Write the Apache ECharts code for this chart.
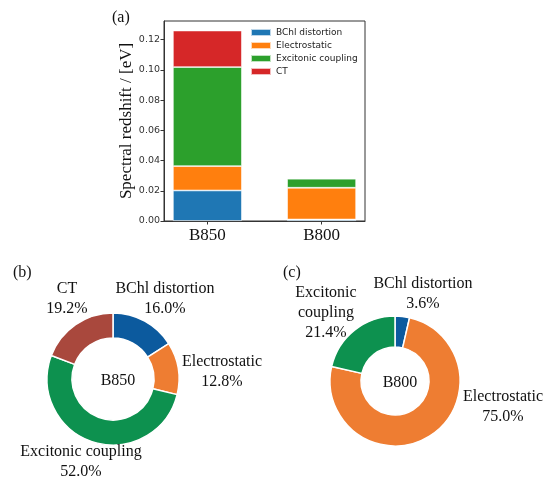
<!DOCTYPE html>
<html>
<head>
<meta charset="utf-8">
<script src="https://cdn.jsdelivr.net/npm/echarts@6/dist/echarts.min.js"></script>
<style>
  html, body { margin: 0; padding: 0; background: #fff; }
  #chart { width: 547px; height: 480px; }
</style>
</head>
<body>
<div id="chart"></div>
<script>
// categories and components
const categories = ["B850", "B800"];
const components = ["BChl distortion", "Electrostatic", "Excitonic coupling", "CT"];

// spectral redshift [eV] per component, index = category
const bchl = [0.0202, 0.001];
const electrostatic = [0.0161, 0.021];
const excitonic = [0.0655, 0.006];
const ct = [0.0242, 0];

const yTicks = [0, 0.02, 0.04, 0.06, 0.08, 0.1, 0.12];

// donut shares [%]
const b850Share = [16.0, 12.8, 52.0, 19.2];
const b800Share = [3.6, 75.0, 21.4];
const b800Labels = ["BChl distortion", "Electrostatic", "Excitonic\ncoupling"];

const barColors = ["#1f77b4", "#ff7f0e", "#2ca02c", "#d62728"];
const pieColors = ["#0c5a9e", "#ee7d32", "#0d914f", "#a9483d"];

const serif = "'Liberation Serif', 'Times New Roman', serif";
const sans = "'DejaVu Sans', sans-serif";

// label centre offsets from the donut centre (px)
const b850LabelOffsets = [[52, -80], [109, -7], [-32, 83], [-46, -80]];
const b800LabelOffsets = [[28, -87], [108, 26], [-69, -68]];

const pieB850 = { cx: 113, cy: 379 };
const pieB800 = { cx: 395, cy: 381 };

let myChart = echarts.init(document.getElementById("chart"));

// value first so the stack runs on the y dimension, bar position second
const barSeries = [bchl, electrostatic, excitonic, ct].map((vals, i) => ({
  name: components[i],
  type: "bar",
  stack: "total",
  barWidth: 69,
  encode: { x: 1, y: 0 },
  itemStyle: {
    color: barColors[i],
    borderColor: "rgba(255,255,255,0.7)",
    borderWidth: 0.8
  },
  data: vals.map((v, k) => [v, k])
}));

function donut(name, shares, labels, center, radius, offsets) {
  return {
    type: "pie",
    name: name,
    center: [center.cx, center.cy],
    radius: radius,
    startAngle: 90,
    clockwise: true,
    avoidLabelOverlap: false,
    itemStyle: { borderColor: "#fff", borderWidth: 1.5 },
    label: {
      show: true,
      position: "outside",
      fontFamily: serif,
      fontSize: 16,
      lineHeight: 20,
      color: "#111",
      formatter: p => labels[p.dataIndex] + "\n" + shares[p.dataIndex].toFixed(1) + "%"
    },
    labelLine: { show: false },
    labelLayout: p => ({
      x: center.cx + offsets[p.dataIndex][0],
      y: center.cy + offsets[p.dataIndex][1],
      align: "center",
      verticalAlign: "middle"
    }),
    data: shares.map((v, i) => ({
      name: labels[i],
      value: v,
      itemStyle: { color: pieColors[i] }
    }))
  };
}

const panelText = { fontFamily: serif, fontSize: 16, fontWeight: "normal", color: "#111" };

myChart.setOption({
  animation: false,
  title: [
    { text: "(a)", left: 107, top: 5, textStyle: panelText },
    { text: "(b)", left: 8, top: 260, textStyle: panelText },
    { text: "(c)", left: 278, top: 260, textStyle: panelText },
    { text: categories[0], left: pieB850.cx, top: pieB850.cy - 11, textAlign: "center", textStyle: panelText },
    { text: categories[1], left: pieB800.cx, top: pieB800.cy - 11, textAlign: "center", textStyle: panelText }
  ],
  legend: {
    data: components,
    orient: "vertical",
    left: 250,
    top: 27,
    padding: 0,
    itemWidth: 20,
    itemHeight: 7,
    itemGap: 2,
    icon: "rect",
    textStyle: { fontFamily: sans, fontSize: 9, lineHeight: 11, color: "#222" }
  },
  grid: {
    left: 164,
    top: 21,
    width: 201,
    height: 200,
    show: true,
    borderColor: "#333",
    borderWidth: 1
  },
  xAxis: {
    type: "value",
    min: -0.38,
    max: 1.38,
    splitLine: { show: false },
    axisLine: { show: true, onZero: false, lineStyle: { color: "#333" } },
    axisTick: { show: true, length: 3.5, customValues: [0, 1], lineStyle: { color: "#333" } },
    axisLabel: {
      customValues: [0, 1],
      formatter: v => categories[Math.round(v)],
      fontFamily: serif,
      fontSize: 17,
      color: "#111",
      margin: 6
    }
  },
  yAxis: {
    type: "value",
    min: 0,
    max: 0.1323,
    name: "Spectral redshift / [eV]",
    nameLocation: "middle",
    nameGap: 18,
    nameTextStyle: { fontFamily: serif, fontSize: 17, color: "#111" },
    splitLine: { show: false },
    axisLine: { show: true, onZero: false, lineStyle: { color: "#333" } },
    axisTick: { show: true, length: 3.5, customValues: yTicks, lineStyle: { color: "#333" } },
    axisLabel: {
      customValues: yTicks,
      formatter: v => v.toFixed(2),
      fontFamily: sans,
      fontSize: 9.5,
      color: "#333",
      margin: 4
    }
  },
  series: barSeries.concat([
    donut("B850", b850Share, components, pieB850, [41, 66], b850LabelOffsets),
    donut("B800", b800Share, b800Labels, pieB800, [34, 65], b800LabelOffsets)
  ])
});
</script>
</body>
</html>
